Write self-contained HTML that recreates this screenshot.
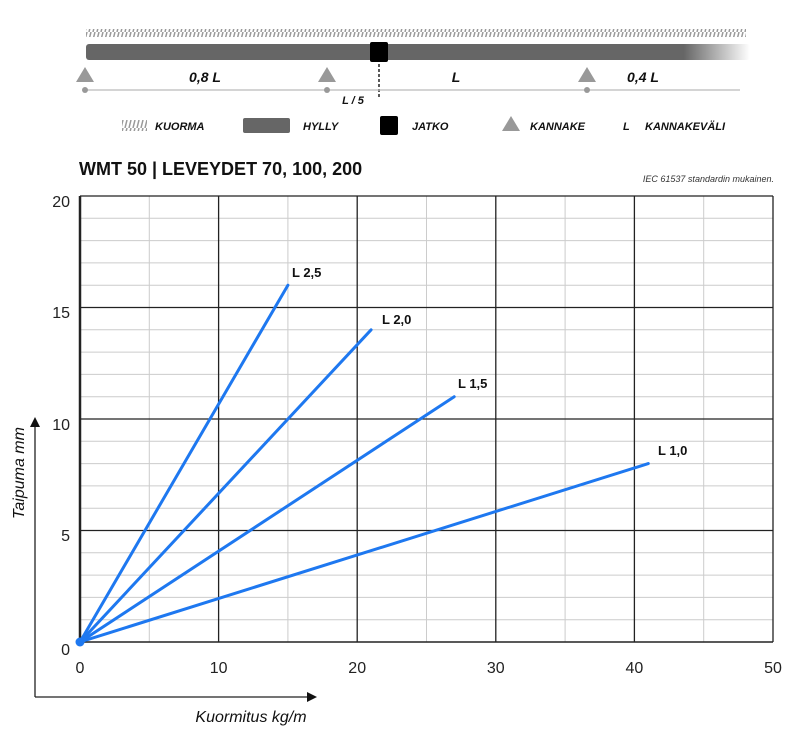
<!DOCTYPE html>
<html><head><meta charset="utf-8"><style>body{margin:0;background:#fff}svg{display:block}</style></head>
<body>
<svg width="800" height="736" viewBox="0 0 800 736" xmlns="http://www.w3.org/2000/svg" font-family="Liberation Sans, sans-serif">
<defs>
<pattern id="h" width="4" height="8" patternUnits="userSpaceOnUse"><line x1="1" y1="8" x2="3" y2="0" stroke="#999" stroke-width="1.5"/></pattern>
<linearGradient id="g" x1="0" x2="1"><stop offset="0.9" stop-color="#666"/><stop offset="1" stop-color="#666" stop-opacity="0"/></linearGradient>
</defs>
<rect x="86" y="29" width="660" height="8" fill="url(#h)"/>
<rect x="86" y="44" width="664" height="16" rx="3" fill="url(#g)"/>
<rect x="370" y="42" width="18" height="20" rx="2" fill="#000"/>
<line x1="379" y1="64" x2="379" y2="98" stroke="#000" stroke-width="1.3" stroke-dasharray="3,2"/>
<line x1="85" y1="90" x2="740" y2="90" stroke="#bbb" stroke-width="1.2"/>
<g fill="#999"><circle cx="85" cy="90" r="3"/><circle cx="327" cy="90" r="3"/><circle cx="587" cy="90" r="3"/>
<polygon points="85,67 76,82 94,82"/><polygon points="327,67 318,82 336,82"/><polygon points="587,67 578,82 596,82"/></g>
<g font-weight="bold" font-style="italic" font-size="14" fill="#111">
<text x="205" y="82" text-anchor="middle">0,8 L</text>
<text x="456" y="82" text-anchor="middle">L</text>
<text x="643" y="82" text-anchor="middle">0,4 L</text>
<text x="353" y="104" text-anchor="middle" font-size="11">L / 5</text>
</g>
<rect x="122" y="120" width="25" height="11" fill="url(#h)"/>
<rect x="243" y="118" width="47" height="15" rx="2" fill="#666"/>
<rect x="380" y="116" width="18" height="19" rx="2" fill="#000"/>
<polygon points="511,116 502,131 520,131" fill="#999"/>
<g font-weight="bold" font-style="italic" font-size="11" fill="#111">
<text x="155" y="130">KUORMA</text><text x="303" y="130">HYLLY</text><text x="412" y="130">JATKO</text>
<text x="530" y="130">KANNAKE</text><text x="623" y="130">L</text><text x="645" y="130">KANNAKEVÄLI</text>
</g>
<text x="79" y="175" font-size="18" font-weight="bold" fill="#111">WMT 50 | LEVEYDET 70, 100, 200</text>
<text x="774" y="182" font-size="9" font-style="italic" fill="#333" text-anchor="end">IEC 61537 standardin mukainen.</text>
<g stroke="#ccc" stroke-width="1">
<line x1="80" x2="773" y1="619.7" y2="619.7"/><line x1="80" x2="773" y1="597.4" y2="597.4"/><line x1="80" x2="773" y1="575.1" y2="575.1"/><line x1="80" x2="773" y1="552.8" y2="552.8"/>
<line x1="80" x2="773" y1="508.2" y2="508.2"/><line x1="80" x2="773" y1="485.9" y2="485.9"/><line x1="80" x2="773" y1="463.6" y2="463.6"/><line x1="80" x2="773" y1="441.3" y2="441.3"/>
<line x1="80" x2="773" y1="396.7" y2="396.7"/><line x1="80" x2="773" y1="374.4" y2="374.4"/><line x1="80" x2="773" y1="352.1" y2="352.1"/><line x1="80" x2="773" y1="329.8" y2="329.8"/>
<line x1="80" x2="773" y1="285.2" y2="285.2"/><line x1="80" x2="773" y1="262.9" y2="262.9"/><line x1="80" x2="773" y1="240.6" y2="240.6"/><line x1="80" x2="773" y1="218.3" y2="218.3"/>
<line y1="196" y2="642" x1="149.3" x2="149.3"/><line y1="196" y2="642" x1="287.9" x2="287.9"/><line y1="196" y2="642" x1="426.5" x2="426.5"/><line y1="196" y2="642" x1="565.1" x2="565.1"/><line y1="196" y2="642" x1="703.7" x2="703.7"/>
</g>
<g stroke="#222" stroke-width="1.3">
<line x1="80" x2="773" y1="530.5" y2="530.5"/><line x1="80" x2="773" y1="419" y2="419"/><line x1="80" x2="773" y1="307.5" y2="307.5"/><line x1="80" x2="773" y1="196" y2="196"/>
<line y1="196" y2="642" x1="218.6" x2="218.6"/><line y1="196" y2="642" x1="357.2" x2="357.2"/><line y1="196" y2="642" x1="495.8" x2="495.8"/><line y1="196" y2="642" x1="634.4" x2="634.4"/><line y1="196" y2="642" x1="773" x2="773"/>
<line x1="80" x2="773" y1="642" y2="642" stroke-width="1.6"/>
<line x1="80" x2="80" y1="196" y2="642" stroke-width="2.5"/>
</g>
<g stroke="#1e78f0" stroke-width="3" stroke-linecap="round">
<line x1="80" y1="642" x2="287.9" y2="285.2"/><line x1="80" y1="642" x2="371.1" y2="329.8"/>
<line x1="80" y1="642" x2="454.2" y2="396.7"/><line x1="80" y1="642" x2="648.3" y2="463.6"/>
</g>
<circle cx="80" cy="642" r="4.5" fill="#1e78f0"/>
<g font-weight="bold" font-size="13" fill="#111">
<text x="292" y="277">L 2,5</text><text x="382" y="324">L 2,0</text><text x="458" y="388">L 1,5</text><text x="658" y="455">L 1,0</text>
</g>
<g font-size="16" fill="#222" text-anchor="end">
<text x="70" y="207">20</text><text x="70" y="318">15</text><text x="70" y="430">10</text><text x="70" y="541">5</text><text x="70" y="655">0</text>
</g>
<g font-size="16" fill="#222" text-anchor="middle">
<text x="80" y="673">0</text><text x="218.6" y="673">10</text><text x="357.2" y="673">20</text><text x="495.8" y="673">30</text><text x="634.4" y="673">40</text><text x="773" y="673">50</text>
</g>
<line x1="35" y1="697" x2="35" y2="426" stroke="#222" stroke-width="1.3"/>
<polygon points="35,417 30,427 40,427" fill="#111"/>
<line x1="35" y1="697" x2="308" y2="697" stroke="#222" stroke-width="1.3"/>
<polygon points="317,697 307,692 307,702" fill="#111"/>
<text x="251" y="722" font-size="16" font-style="italic" fill="#111" text-anchor="middle">Kuormitus kg/m</text>
<text transform="translate(24,473) rotate(-90)" font-size="16" font-style="italic" fill="#111" text-anchor="middle">Taipuma mm</text>
</svg>
</body></html>
